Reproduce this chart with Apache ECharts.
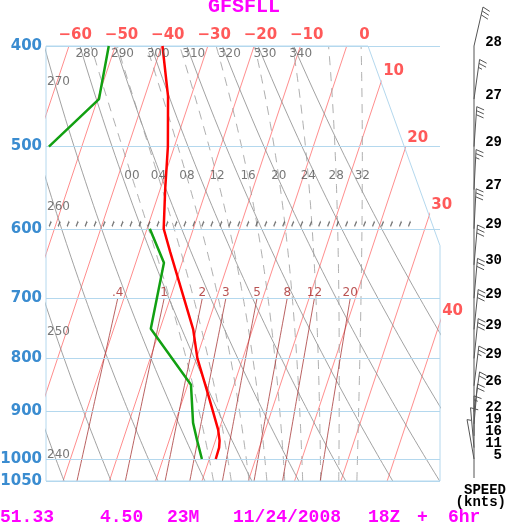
<!DOCTYPE html>
<html>
<head>
<meta charset="utf-8">
<title>GFSFLL</title>
<script src="https://cdn.jsdelivr.net/npm/echarts@6/dist/echarts.min.js"></script>
<style>
html,body{margin:0;padding:0;background:#fff;}
#chart{width:506px;height:525px;}
</style>
</head>
<body>
<div id="chart"></div>
<script>
// background diagram
var pressureTicks = [400, 500, 600, 700, 800, 900, 1000, 1050];
var isotherms = [-60, -50, -40, -30, -20, -10, 0, 10, 20, 30, 40];
var dryAdiabats = [240, 250, 260, 270, 280, 290, 300, 310, 320, 330, 340];
var moistAdiabats = [0, 4, 8, 12, 16, 20, 24, 28, 32];
var mixRatios = [0.4, 1, 2, 3, 5, 8, 12, 20];
var thetaLeftLabels = [240, 250, 260, 270];
var thetaLeftP = [990, 755, 572, 433];

// sounding (hPa, deg C)
var tempP = [1000, 975, 960, 937, 865, 800, 750, 632, 600, 550, 500, 447, 400];
var tempC = [1.4, 1.3, 0.9, -0.2, -5.0, -9.8, -12.8, -23.3, -26.4, -28.9, -31.4, -35.0, -39.8];
var dewP = [1000, 959, 923, 848, 749, 647, 600, 550, 500, 450, 400];
var dewC = [-1.6, -4.0, -6.1, -9.3, -22.0, -23.9, -29.4, null, -57.1, -49.7, -51.4];

// winds
var windP = [400, 450, 500, 550, 600, 650, 700, 750, 800, 850, 900, 925, 950, 975, 1000];
var windKt = [28, 27, 29, 27, 29, 30, 29, 29, 29, 26, 22, 19, 16, 11, 5];
var windDir = [13, 8, 4, 3, 3, 5, 5, 6, 6, 7, 8, 5, 0, 355, 350];

// skew-T geometry
var SKEW = 32.4;
var XMIN = -35.27, XMAX = 49.83;
var X_TOPRIGHT = 34.28, P_CORNER = 623;

function skewX(t, p) {
    return t + SKEW * Math.log(1000 / p);
}

var levels = [];
for (var lp = 1050; lp >= 400; lp -= 10) levels.push(lp);

// moist adiabat lapse rate dT/dp
var RD = 287.04, CP = 1005.7, LV = 2.501e6;
function moistLapse(p, tc) {
    var T = tc + 273.15;
    var es = 6.112 * Math.exp(17.67 * tc / (tc + 243.5));
    var rs = 0.622 * es / (p - es);
    return ((RD * T + LV * rs) / p) / (CP + LV * LV * rs * 0.622 / (RD * T * T));
}
function rkStep(t, p, dp) {
    var k1 = moistLapse(p, t);
    var k2 = moistLapse(p + dp / 2, t + dp / 2 * k1);
    var k3 = moistLapse(p + dp / 2, t + dp / 2 * k2);
    var k4 = moistLapse(p + dp, t + dp * k3);
    return t + dp / 6 * (k1 + 2 * k2 + 2 * k3 + k4);
}
function moistLine(tw) {
    var up = [], down = [];
    var t = tw, p = 1000;
    up.push([skewX(t, p), p]);
    while (p > 400) { t = rkStep(t, p, -5); p -= 5; up.push([skewX(t, p), p]); }
    t = tw; p = 1000;
    while (p < 1050) { t = rkStep(t, p, 5); p += 5; down.push([skewX(t, p), p]); }
    return down.reverse().concat(up);
}
function moistAt(tw, target) {
    var t = tw, p = 1000;
    while (p > target) { t = rkStep(t, p, -5); p -= 5; }
    return t;
}
function mixTemp(w, p) {
    var e = (w / 1000) * p / (0.622 + w / 1000);
    var l = Math.log(e / 6.112);
    return 243.5 * l / (17.67 - l);
}

var series = [];

isotherms.forEach(function (t) {
    series.push({
        type: 'line', silent: true, showSymbol: false, z: 1,
        data: [[skewX(t, 1050), 1050], [skewX(t, 400), 400]],
        lineStyle: {color: '#ff7070', width: 0.8}
    });
});
dryAdiabats.forEach(function (th) {
    series.push({
        type: 'line', silent: true, showSymbol: false, z: 1,
        data: levels.map(function (p) { return [skewX(th * Math.pow(p / 1000, 0.2857) - 273.15, p), p]; }),
        lineStyle: {color: '#8a8a8a', width: 0.8}
    });
});
moistAdiabats.forEach(function (tw) {
    series.push({
        type: 'line', silent: true, showSymbol: false, z: 1,
        data: moistLine(tw),
        lineStyle: {color: '#9a9a9a', width: 0.8, type: [9, 7]}
    });
});
mixRatios.forEach(function (w) {
    series.push({
        type: 'line', silent: true, showSymbol: false, z: 1,
        data: levels.filter(function (p) { return p >= 700; }).map(function (p) { return [skewX(mixTemp(w, p), p), p]; }),
        lineStyle: {color: '#a83a3a', width: 0.8}
    });
});

// isobars + pressure labels
series.push({
    type: 'line', data: [], z: 2, silent: true,
    markLine: {
        silent: true, symbol: ['none', 'none'], animation: false,
        lineStyle: {color: '#b4d8ee', width: 1, type: 'solid'},
        label: {show: true, position: 'start', distance: 4, formatter: '{c}',
            color: '#3a8cd0', fontFamily: 'DejaVu Sans', fontWeight: 'bold', fontSize: 15},
        data: pressureTicks.map(function (p) { return {yAxis: p}; })
    }
});

// white out the corner outside the diagram
series.push({
    type: 'custom', z: 3, silent: true, data: [[0]],
    renderItem: function (params, api) {
        var a = api.coord([X_TOPRIGHT, 400]);
        var b = api.coord([XMAX, 400]);
        var c = api.coord([XMAX, P_CORNER]);
        return {
            type: 'polygon',
            shape: {points: [[a[0], a[1] - 2], [b[0] + 2, b[1] - 2], [c[0] + 2, c[1]]]},
            style: {fill: '#fff'}
        };
    }
});

// frame
series.push({
    type: 'line', silent: true, showSymbol: false, z: 4, clip: false,
    data: [[XMIN, 400], [X_TOPRIGHT, 400], [XMAX, P_CORNER], [XMAX, 1050], [XMIN, 1050], [XMIN, 400]],
    lineStyle: {color: '#b4d8ee', width: 1}
});

// hatch marks on 600 hPa
var hatch = [];
for (var hx = XMIN + 0.9; hx < XMIN + 80; hx += 1.94) hatch.push([hx, 600]);
series.push({
    type: 'scatter', silent: true, z: 4, clip: false,
    symbol: 'path://M0,5L2,0', symbolSize: [2, 5], symbolOffset: [0, -5],
    itemStyle: {color: 'none', borderColor: '#555', borderWidth: 1},
    data: hatch
});

// sounding
series.push({
    type: 'line', silent: true, showSymbol: false, z: 5,
    data: tempP.map(function (p, i) { return [skewX(tempC[i], p), p]; }),
    lineStyle: {color: '#ff0000', width: 2.5}
});
var seg = [];
var dewSegs = [seg];
dewP.forEach(function (p, i) {
    if (dewC[i] === null) { seg = []; dewSegs.push(seg); return; }
    seg.push([skewX(dewC[i], p), p]);
});
dewSegs.forEach(function (s) {
    series.push({
        type: 'line', silent: true, showSymbol: false, z: 5, data: s,
        lineStyle: {color: '#12a012', width: 2.5}
    });
});

// labels
var isoLabelPts = isotherms.map(function (t) {
    var L400 = Math.log(1000 / 400), Lc = Math.log(1000 / P_CORNER);
    var x400 = skewX(t, 400);
    if (x400 <= X_TOPRIGHT) return [x400, 400, t];
    var k = (XMAX - X_TOPRIGHT) / (L400 - Lc);
    var L = (X_TOPRIGHT + k * L400 - t) / (SKEW + k);
    if (t + SKEW * L > XMAX) L = (XMAX - t) / SKEW;
    return [t + SKEW * L, 1000 * Math.exp(-L), t];
});
series.push({
    type: 'scatter', silent: true, z: 6, clip: false, symbolSize: 0,
    data: isoLabelPts,
    label: {show: true, position: 'inside', align: 'right', verticalAlign: 'middle', offset: [23, -11],
        color: '#ff3030', fontFamily: 'DejaVu Sans', fontWeight: 'bold', fontSize: 15,
        formatter: function (d) { var t = d.value[2]; return t < 0 ? '\u2212' + Math.abs(t) : String(t); }}
});
var thetaTop = dryAdiabats.filter(function (th) {
    return skewX(th * Math.pow(0.4, 0.2857) - 273.15, 400) > XMIN;
}).map(function (th) { return [skewX(th * Math.pow(0.4, 0.2857) - 273.15, 400), 400, th]; });
series.push({
    type: 'scatter', silent: true, z: 6, clip: false, symbolSize: 0,
    data: thetaTop,
    label: {show: true, position: 'inside', offset: [7, 8], color: '#555',
        fontFamily: 'DejaVu Sans', fontSize: 12, formatter: function (d) { return d.value[2]; }}
});
series.push({
    type: 'scatter', silent: true, z: 6, clip: false, symbolSize: 0,
    data: thetaLeftLabels.map(function (th, i) { return [XMIN, thetaLeftP[i], th]; }),
    label: {show: true, position: 'inside', align: 'left', offset: [1, 0], color: '#555',
        fontFamily: 'DejaVu Sans', fontSize: 12, formatter: function (d) { return d.value[2]; }}
});
series.push({
    type: 'scatter', silent: true, z: 6, clip: false, symbolSize: 0,
    data: moistAdiabats.map(function (tw) { return [skewX(moistAt(tw, 535), 535), 535, tw]; }),
    label: {show: true, position: 'inside', offset: [0, -1], color: '#555',
        fontFamily: 'DejaVu Sans', fontSize: 12,
        formatter: function (d) { var v = d.value[2]; return v < 10 ? '0' + v : String(v); }}
});
series.push({
    type: 'scatter', silent: true, z: 6, clip: false, symbolSize: 0,
    data: mixRatios.map(function (w) { return [skewX(mixTemp(w, 700), 700), 700, w]; }),
    label: {show: true, position: 'inside', offset: [0, -5], color: '#a82828',
        fontFamily: 'DejaVu Sans', fontSize: 12,
        formatter: function (d) { var w = d.value[2]; return w < 1 ? String(w).replace('0.', '.') : String(w); }}
});

// wind barbs
series.push({
    type: 'custom', z: 6, silent: true,
    data: windP.map(function (p, i) { return [XMAX, p, windKt[i], windDir[i]]; }),
    renderItem: function (params, api) {
        var pt = api.coord([api.value(0), api.value(1)]);
        var bx = pt[0] + 34, by = pt[1];
        var spd = api.value(2), dir = api.value(3) * Math.PI / 180;
        var ux = Math.sin(dir), uy = -Math.cos(dir);
        var px = -uy, py = ux;
        var a = 20 * Math.PI / 180;
        var fx = px * Math.cos(a) - ux * Math.sin(a), fy = py * Math.cos(a) - uy * Math.sin(a);
        var len = 40;
        var tx = bx + ux * len, ty = by + uy * len;
        var st = {stroke: '#555', lineWidth: 1};
        var kids = [{type: 'line', shape: {x1: bx, y1: by, x2: tx, y2: ty}, style: st}];
        var n5 = Math.round(spd / 5), full = Math.floor(n5 / 2), half = n5 % 2;
        var k;
        for (k = 0; k < full + half; k++) {
            var sx = tx - ux * 4 * k, sy = ty - uy * 4 * k;
            var fl = k < full ? 8 : 4;
            kids.push({type: 'line', shape: {x1: sx, y1: sy, x2: sx + fx * fl, y2: sy + fy * fl}, style: st});
        }
        kids.push({type: 'text', style: {text: String(spd), x: 502, y: by - 4, align: 'right', verticalAlign: 'middle',
            font: 'bold 14px "Liberation Mono", monospace', fill: '#000'}});
        if (params.dataIndex === 0) {
            var bot = api.coord([XMAX, 1050]);
            kids.push({type: 'line', shape: {x1: bx, y1: by, x2: bx, y2: bot[1] - 3}, style: st});
        }
        return {type: 'group', children: kids};
    }
});

var myChart = echarts.init(document.getElementById('chart'));
var option = {
    animation: false,
    backgroundColor: '#fff',
    grid: {left: 46, top: 46, width: 394, height: 435},
    xAxis: {type: 'value', min: XMIN, max: XMAX, show: false},
    yAxis: {type: 'log', logBase: 10, min: 400, max: 1050, inverse: true, show: false},
    graphic: [
        {type: 'text', x: 244, y: 7, style: {text: 'GFSFLL', font: 'bold 20px "Liberation Mono", monospace',
            fill: '#ff00ff', align: 'center', verticalAlign: 'middle'}},
        {type: 'text', x: 0, y: 517, style: {text: '51.33', font: 'bold 18px "Liberation Mono", monospace', fill: '#ff00ff', verticalAlign: 'middle'}},
        {type: 'text', x: 100, y: 517, style: {text: '4.50', font: 'bold 18px "Liberation Mono", monospace', fill: '#ff00ff', verticalAlign: 'middle'}},
        {type: 'text', x: 167, y: 517, style: {text: '23M', font: 'bold 18px "Liberation Mono", monospace', fill: '#ff00ff', verticalAlign: 'middle'}},
        {type: 'text', x: 233, y: 517, style: {text: '11/24/2008', font: 'bold 18px "Liberation Mono", monospace', fill: '#ff00ff', verticalAlign: 'middle'}},
        {type: 'text', x: 368, y: 517, style: {text: '18Z', font: 'bold 18px "Liberation Mono", monospace', fill: '#ff00ff', verticalAlign: 'middle'}},
        {type: 'text', x: 417, y: 517, style: {text: '+', font: 'bold 18px "Liberation Mono", monospace', fill: '#ff00ff', verticalAlign: 'middle'}},
        {type: 'text', x: 448, y: 517, style: {text: '6hr', font: 'bold 18px "Liberation Mono", monospace', fill: '#ff00ff', verticalAlign: 'middle'}},
        {type: 'text', x: 506, y: 490, style: {text: 'SPEED', font: 'bold 14px "Liberation Mono", monospace', fill: '#000', align: 'right', verticalAlign: 'middle'}},
        {type: 'text', x: 506, y: 502, style: {text: '(knts)', font: 'bold 14px "Liberation Mono", monospace', fill: '#000', align: 'right', verticalAlign: 'middle'}}
    ],
    series: series
};
myChart.setOption(option);
</script>
</body>
</html>
